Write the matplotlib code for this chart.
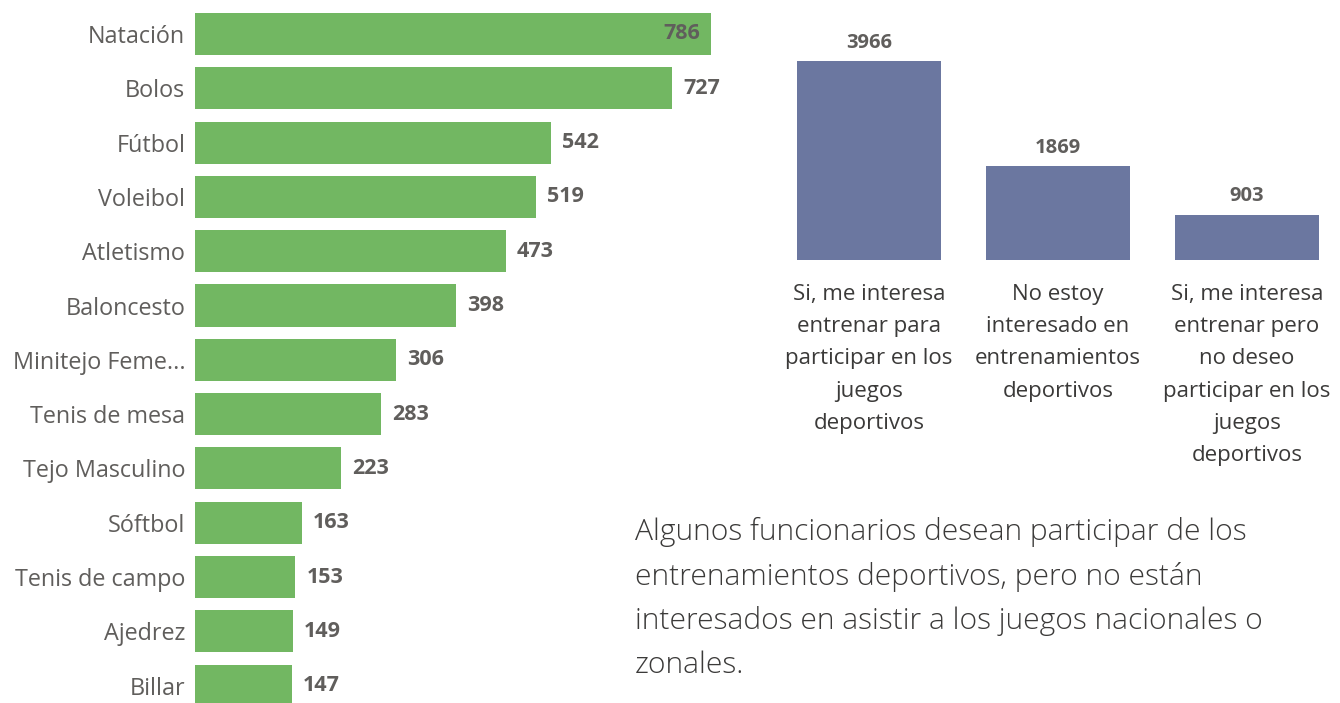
import matplotlib
matplotlib.use("Agg")
import matplotlib.pyplot as plt

plt.rcParams['font.family'] = ['Open Sans', 'DejaVu Sans']

sports = ["Natación", "Bolos", "Fútbol", "Voleibol", "Atletismo", "Baloncesto",
          "Minitejo Feme...", "Tenis de mesa", "Tejo Masculino", "Sóftbol",
          "Tenis de campo", "Ajedrez", "Billar"]
sport_counts = [786, 727, 542, 519, 473, 398, 306, 283, 223, 163, 153, 149, 147]

interest_labels = ["Si, me interesa\nentrenar para\nparticipar en los\njuegos\ndeportivos",
                   "No estoy\ninteresado en\nentrenamientos\ndeportivos",
                   "Si, me interesa\nentrenar pero\nno deseo\nparticipar en los\njuegos\ndeportivos"]
interest_counts = [3966, 1869, 903]

note = ("Algunos funcionarios desean participar de los\n"
        "entrenamientos deportivos, pero no están\n"
        "interesados en asistir a los juegos nacionales o\n"
        "zonales.")

W, H = 1340, 703
fig = plt.figure(figsize=(W / 100, H / 100), dpi=100)
fig.patch.set_facecolor("white")

GREEN = "#72B762"
PURPLE = "#6B77A0"
LABEL = "#605E5C"

# Left horizontal bar chart
axL = fig.add_axes([195 / W, 0, (740 - 195) / W, 1])
y = list(range(len(sports)))
axL.barh(y, sport_counts, height=0.775, color=GREEN)
axL.set_ylim(12.32, -0.626)
axL.set_xlim(0, 830)
axL.set_yticks(y)
axL.set_yticklabels(sports, fontsize=16.8, color=LABEL)
axL.tick_params(axis='y', length=0, pad=7)
axL.set_xticks([])
for s in axL.spines.values():
    s.set_visible(False)
for i, v in enumerate(sport_counts):
    if i == 0:
        axL.annotate(str(v), (v, i), xytext=(-8, 0), textcoords="offset points",
                     ha="right", va="center", fontsize=15.5, fontweight="bold", color=LABEL)
    else:
        axL.annotate(str(v), (v, i), xytext=(8, 0), textcoords="offset points",
                     ha="left", va="center", fontsize=15.5, fontweight="bold", color=LABEL)

# Right vertical bar chart
top_px, bot_px = 20, 260
axR = fig.add_axes([760 / W, (H - bot_px) / H, (1340 - 760) / W, (bot_px - top_px) / H])
x = list(range(len(interest_counts)))
axR.bar(x, interest_counts, width=0.762, color=PURPLE)
axR.set_xlim(-0.577, 2.492)
axR.set_ylim(0, (bot_px - top_px) / 0.05018)
axR.set_yticks([])
axR.set_xticks(x)
axR.set_xticklabels(interest_labels, fontsize=16, color="#3B3A39", linespacing=1.71)
axR.tick_params(axis='x', length=0, pad=17)
for s in axR.spines.values():
    s.set_visible(False)
for i, v in enumerate(interest_counts):
    axR.annotate(str(v), (i, v), xytext=(0, 6), textcoords="offset points",
                 ha="center", va="bottom", fontsize=14.5, fontweight="bold", color=LABEL)

fig.text(635 / W, 1 - 517 / H, note, ha="left", va="top", fontsize=21.6,
         fontweight="light", color="#3B3A39", linespacing=1.64)

fig.savefig("out.png", dpi=100, facecolor="white")
